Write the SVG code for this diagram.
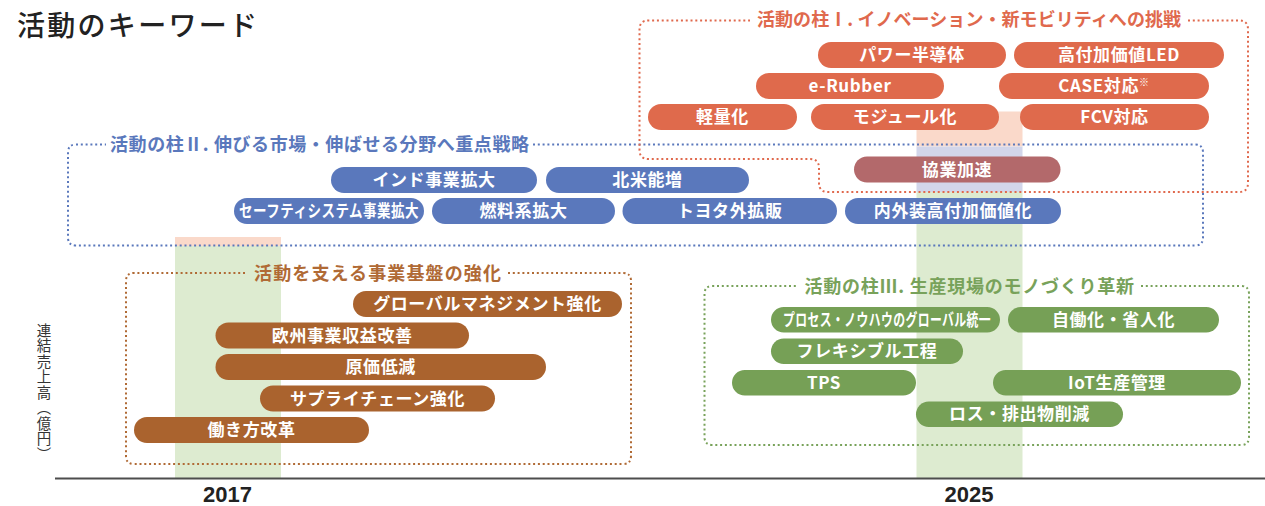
<svg xmlns="http://www.w3.org/2000/svg" width="1265" height="506" viewBox="0 0 1265 506">
<style>
text{font-family:"Noto Sans CJK JP","Noto Sans",sans-serif}
.pt{fill:#fff;font-size:17px;font-weight:700;text-anchor:middle;letter-spacing:0.6px}
.red{fill:#DF6A4C}.blue{fill:#5A78BC}.mauve{fill:#B3696B}.brown{fill:#AA632E}.green{fill:#76A056}
.dot{fill:none;stroke-width:2;stroke-dasharray:2 2.8}
.ttl{font-size:18px;font-weight:700}
.yr{font-family:"Liberation Sans",Arial,sans-serif;font-size:22px;font-weight:700;fill:#222;text-anchor:middle}
</style>
<rect width="1265" height="506" fill="#fff"/>
<g id="bands">
<rect x="175" y="237" width="106" height="9" fill="#FAD9CA"/>
<rect x="175" y="246" width="106" height="232" fill="#DDEBD0"/>
<rect x="916.5" y="111.5" width="106" height="35" fill="#FAD9CA"/>
<rect x="916.5" y="146.5" width="106" height="45.5" fill="#D3D6EA"/>
<rect x="916.5" y="192" width="106" height="286" fill="#DDEBD0"/>
</g>
<g id="title"><text x="17" y="35.5" font-size="28" fill="#222" textLength="240" font-weight="500">活動のキーワード</text></g>
<g id="axis">
<line x1="55" y1="478.5" x2="1265" y2="478.5" stroke="#4d4d4d" stroke-width="2"/>
<text class="yr" x="227.5" y="502">2017</text>
<text class="yr" x="969" y="502">2025</text>
</g>
<g id="y-label">
<text x="44" y="323" font-size="14.5" fill="#333" letter-spacing="1" style="writing-mode:vertical-rl">連結売上高（億円）</text>
</g>
<g id="pillar2">
<path class="dot" stroke="#5A78BC" d="M533,144.5H1195Q1203,144.5 1203,152.5V237.5Q1203,245.5 1195,245.5H76Q68,245.5 68,237.5V152.5Q68,144.5 76,144.5H106"/>
<text class="ttl" x="110" y="150.5" fill="#5A78BC" textLength="419">活動の柱Ⅱ. 伸びる市場・伸ばせる分野へ重点戦略</text>
</g>
<g id="pillar1">
<path class="dot" stroke="#E0694D" d="M1188,20.5H1239Q1248,20.5 1248,29.5V183Q1248,192 1239,192H828Q819,192 819,183V168Q819,159 810,159H648.5Q639.5,159 639.5,150V29.5Q639.5,20.5 648.5,20.5H750"/>
<text class="ttl" x="757" y="25.5" fill="#E0694D" textLength="424">活動の柱Ⅰ. イノベーション・新モビリティへの挑戦</text>
</g>
<g id="base">
<path class="dot" stroke="#B06A35" d="M508,273H623Q631,273 631,281V456Q631,464 623,464H134Q126,464 126,456V281Q126,273 134,273H247"/>
<text class="ttl" x="254" y="279.5" fill="#B06A35" textLength="247">活動を支える事業基盤の強化</text>
</g>
<g id="pillar3">
<path class="dot" stroke="#78A25A" d="M1141,286H1241Q1249,286 1249,294V437Q1249,445 1241,445H712.5Q704.5,445 704.5,437V294Q704.5,286 712.5,286H798"/>
<text class="ttl" x="804.5" y="292.5" fill="#78A25A" textLength="329.5">活動の柱Ⅲ. 生産現場のモノづくり革新</text>
</g>
<g id="n-power"><rect class="red" x="818" y="42" width="188" height="26" rx="13"/><text class="pt" x="912" y="61">パワー半導体</text></g>
<g id="n-led"><rect class="red" x="1014" y="42" width="210" height="26" rx="13"/><text class="pt" x="1119" y="61">高付加価値LED</text></g>
<g id="n-erubber"><rect class="red" x="756" y="73" width="188" height="26" rx="13"/><text class="pt" x="850" y="92">e-Rubber</text></g>
<g id="n-case"><rect class="red" x="999" y="73" width="210" height="26" rx="13"/><text class="pt" x="1104" y="92">CASE対応<tspan font-size="10" dy="-6">※</tspan></text></g>
<g id="n-light"><rect class="red" x="648" y="104" width="149" height="26" rx="13"/><text class="pt" x="722.5" y="123">軽量化</text></g>
<g id="n-module"><rect class="red" x="811" y="104" width="188" height="26" rx="13"/><text class="pt" x="905" y="123">モジュール化</text></g>
<g id="n-fcv"><rect class="red" x="1020" y="104" width="189" height="26" rx="13"/><text class="pt" x="1114.5" y="123">FCV対応</text></g>
<g id="n-india"><rect class="blue" x="331" y="167" width="206" height="26" rx="13"/><text class="pt" x="434" y="186">インド事業拡大</text></g>
<g id="n-na"><rect class="blue" x="546" y="167" width="203" height="26" rx="13"/><text class="pt" x="647.5" y="186">北米能増</text></g>
<g id="n-safety"><rect class="blue" x="234" y="198" width="190" height="26" rx="13"/><text class="pt" font-size="16" transform="translate(329 217) scale(0.83 1)" x="0" y="0" textLength="216.9" lengthAdjust="spacingAndGlyphs">セーフティシステム事業拡大</text></g>
<g id="n-fuel"><rect class="blue" x="432" y="198" width="183" height="26" rx="13"/><text class="pt" x="523.5" y="217">燃料系拡大</text></g>
<g id="n-toyota"><rect class="blue" x="622.5" y="198" width="214.5" height="26" rx="13"/><text class="pt" x="729.7" y="217">トヨタ外拡販</text></g>
<g id="n-interior"><rect class="blue" x="845" y="198" width="216" height="26" rx="13"/><text class="pt" x="953" y="217">内外装高付加価値化</text></g>
<g id="n-collab"><rect class="mauve" x="854" y="156.5" width="206.5" height="26" rx="13"/><text class="pt" x="957" y="175.5">協業加速</text></g>
<g id="n-global"><rect class="brown" x="353" y="291" width="269" height="26" rx="13"/><text class="pt" x="487.5" y="310">グローバルマネジメント強化</text></g>
<g id="n-europe"><rect class="brown" x="215.5" y="322.5" width="253.5" height="26" rx="13"/><text class="pt" x="342.2" y="341.5">欧州事業収益改善</text></g>
<g id="n-cost"><rect class="brown" x="215.5" y="354" width="330.5" height="26" rx="13"/><text class="pt" x="380.7" y="373">原価低減</text></g>
<g id="n-supply"><rect class="brown" x="260" y="385.5" width="235" height="26" rx="13"/><text class="pt" x="377.5" y="404.5">サプライチェーン強化</text></g>
<g id="n-work"><rect class="brown" x="134" y="417" width="235" height="26" rx="13"/><text class="pt" x="251.5" y="436">働き方改革</text></g>
<g id="n-process"><rect class="green" x="771" y="307" width="229" height="25.5" rx="12.75"/><text class="pt" font-size="15.5" transform="translate(887 325.5) scale(0.76 1)" x="0" y="0" textLength="273.7" lengthAdjust="spacingAndGlyphs">プロセス・ノウハウのグローバル統一</text></g>
<g id="n-auto"><rect class="green" x="1008" y="307" width="211" height="25.5" rx="12.75"/><text class="pt" x="1113.5" y="325.8">自働化・省人化</text></g>
<g id="n-flex"><rect class="green" x="771" y="338.5" width="192" height="25.5" rx="12.75"/><text class="pt" x="867" y="357.3">フレキシブル工程</text></g>
<g id="n-tps"><rect class="green" x="732" y="370" width="184" height="25.5" rx="12.75"/><text class="pt" x="824" y="388.8">TPS</text></g>
<g id="n-iot"><rect class="green" x="993" y="370" width="248" height="25.5" rx="12.75"/><text class="pt" x="1117" y="388.8">IoT生産管理</text></g>
<g id="n-loss"><rect class="green" x="916" y="401.5" width="207" height="25.5" rx="12.75"/><text class="pt" x="1019.5" y="420.3">ロス・排出物削減</text></g>
<g id="connectors"></g>
</svg>
